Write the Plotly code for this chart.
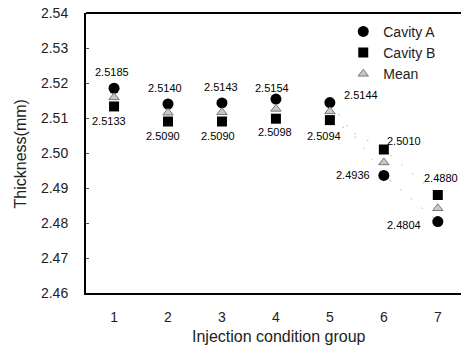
import plotly.graph_objects as go

groups = [1, 2, 3, 4, 5, 6, 7]
cavity_a = [2.5185, 2.5140, 2.5143, 2.5154, 2.5144, 2.4936, 2.4804]
cavity_b = [2.5133, 2.5090, 2.5090, 2.5098, 2.5094, 2.5010, 2.4880]
mean = [(a + b) / 2 for a, b in zip(cavity_a, cavity_b)]
y_ticks = [2.46, 2.47, 2.48, 2.49, 2.50, 2.51, 2.52, 2.53, 2.54]

# label offsets (pixels) - styling only
a_shift = [(-2, 16), (-3, 16), (-1, 16), (-4, 11), (31, 8), (-31, 0), (-34, -3)]
b_shift = [(-5, -15), (-5, -14), (-4, -14), (-1, -13), (-6, -16), (20, 9), (3, 17)]

FONT = "Liberation Sans, Arial, sans-serif"

fig = go.Figure()

# faint dotted connecting lines for the falling groups
fig.add_trace(go.Scatter(x=groups[4:], y=cavity_a[4:], mode="lines",
                         line=dict(color="#bbbbbb", width=1, dash="2px,12px"),
                         showlegend=False, hoverinfo="skip"))
fig.add_trace(go.Scatter(x=groups[4:], y=cavity_b[4:], mode="lines",
                         line=dict(color="#bbbbbb", width=1, dash="2px,12px"),
                         showlegend=False, hoverinfo="skip"))

fig.add_trace(go.Scatter(x=groups, y=cavity_a, mode="markers", name="Cavity A",
                         marker=dict(symbol="circle", size=11, color="black")))
fig.add_trace(go.Scatter(x=groups, y=cavity_b, mode="markers", name="Cavity B",
                         marker=dict(symbol="square", size=10, color="black")))
fig.add_trace(go.Scatter(x=groups, y=mean, mode="markers", name="Mean",
                         marker=dict(symbol="triangle-up", size=9, color="#c8c8c8",
                                     line=dict(color="#777777", width=1))))

annotations = []
for x, y, (dx, dy) in zip(groups, cavity_a, a_shift):
    annotations.append(dict(x=x, y=y, text=f"{y:.4f}", showarrow=False,
                            xshift=dx, yshift=dy, xanchor="center", yanchor="middle",
                            font=dict(family=FONT, size=11, color="black")))
for x, y, (dx, dy) in zip(groups, cavity_b, b_shift):
    annotations.append(dict(x=x, y=y, text=f"{y:.4f}", showarrow=False,
                            xshift=dx, yshift=dy, xanchor="center", yanchor="middle",
                            font=dict(family=FONT, size=11, color="black")))

annotations.append(dict(xref="paper", yref="paper", x=0.515, y=-0.154,
                        text="Injection condition group", showarrow=False,
                        xanchor="center", yanchor="middle",
                        font=dict(family=FONT, size=16, color="#222222")))
annotations.append(dict(xref="paper", yref="paper", x=-0.176, y=0.495,
                        text="Thickness(mm)", showarrow=False, textangle=-90,
                        xanchor="center", yanchor="middle",
                        font=dict(family=FONT, size=16, color="#222222")))

fig.update_layout(
    width=461, height=347,
    margin=dict(l=86, r=0, t=13, b=54, autoexpand=False),
    paper_bgcolor="white", plot_bgcolor="white",
    font=dict(family=FONT, size=14, color="#222222"),
    showlegend=True,
    legend=dict(x=0.686, y=0.99, xanchor="left", yanchor="top",
                bgcolor="rgba(0,0,0,0)", font=dict(size=14, family=FONT),
                tracegroupgap=0, itemsizing="trace"),
    annotations=annotations,
    shapes=[dict(type="line", xref="paper", yref="paper", x0=0, x1=1, y0=1, y1=1,
                 line=dict(color="black", width=2))],
)

fig.update_xaxes(range=[0.48, 7.43], tickvals=groups, ticktext=[str(g) for g in groups],
                 showgrid=False, zeroline=False, showline=True, linecolor="black",
                 linewidth=2, ticks="", ticklabelstandoff=10,
                 tickfont=dict(family=FONT, size=14, color="#222222"))
fig.update_yaxes(range=[2.46, 2.54], tickvals=y_ticks,
                 ticktext=[f"{v:.2f}" for v in y_ticks],
                 showgrid=False, zeroline=False, showline=True, linecolor="black",
                 linewidth=2, ticks="inside", ticklen=3, tickcolor="#555555",
                 ticklabelstandoff=13,
                 tickfont=dict(family=FONT, size=14, color="#222222"))

fig.write_html("out.html", config={"displayModeBar": False},
               post_script="document.body.style.margin='0';document.body.style.overflow='hidden';")
